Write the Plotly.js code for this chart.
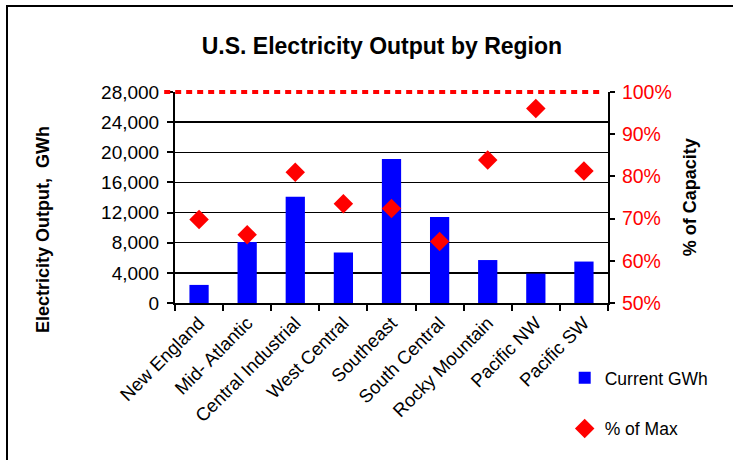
<!DOCTYPE html>
<html>
<head>
<meta charset="utf-8">
<script src="https://cdn.plot.ly/plotly-3.0.1.min.js"></script>
<style>
html,body{margin:0;padding:0;background:#fff;overflow:hidden;}
#wrap{position:relative;width:733px;height:460px;}
#chart{position:absolute;left:0;top:0;width:733px;height:460px;}
#frame{position:absolute;left:6px;top:5px;width:760px;height:500px;border:2px solid #000;pointer-events:none;}
</style>
</head>
<body>
<div id="wrap"><div id="chart"></div><div id="frame"></div></div>
<script>
const regions = ["New England","Mid- Atlantic","Central Industrial","West Central","Southeast","South Central","Rocky Mountain","Pacific NW","Pacific SW"];
const currentGWh = [2400, 8100, 14100, 6700, 19100, 11400, 5700, 3900, 5500];
const pctOfMax = [0.698, 0.662, 0.810, 0.735, 0.724, 0.646, 0.839, 0.961, 0.813];
const maxCapacity = 1.0;
const leftTicks = [0, 4000, 8000, 12000, 16000, 20000, 24000, 28000];
const rightTicks = [0.5, 0.6, 0.7, 0.8, 0.9, 1.0];
const pctRange = [0.5, 1.0];

const FONT = "Liberation Sans, Arial, sans-serif";

const traces = [
  {type:"bar", name:"Current GWh", x:regions, y:currentGWh, marker:{color:"#0000FF"}, width:0.4, legendgroup:"a"},
  {type:"scatter", mode:"markers", name:"% of Max", x:regions, y:pctOfMax, yaxis:"y2", cliponaxis:false,
   marker:{symbol:"diamond", color:"#FF0000", size:15}, legendgroup:"b"}
];

const maxPaperY = (maxCapacity - pctRange[0]) / (pctRange[1] - pctRange[0]);

const layout = {
  width:733, height:460,
  margin:{l:175, r:125, t:92, b:157, pad:0},
  paper_bgcolor:"#fff", plot_bgcolor:"#fff",
  font:{family:FONT, size:17, color:"#000"},
  title:{text:"<b>U.S. Electricity Output by Region</b>", font:{family:FONT, size:23, color:"#000"},
         x:0.521, xref:"container", y:0.9, yref:"container", xanchor:"center", yanchor:"middle"},
  showlegend:true,
  legend:{x:0.90, y:-0.27, xanchor:"left", yanchor:"top", font:{family:FONT, size:17.5, color:"#000"},
          tracegroupgap:25, bgcolor:"rgba(0,0,0,0)", itemwidth:30},
  xaxis:{type:"category", range:[-0.5, 8.5], tickangle:-45, ticks:"outside", ticklen:6, tickwidth:2, tickcolor:"#000",
         tickson:"boundaries", showline:true, linecolor:"#000", linewidth:2, showgrid:false, zeroline:false,
         tickfont:{family:FONT, size:18.5, color:"#000"}},
  xaxis2:{overlaying:"x", anchor:"y", type:"category", categoryorder:"array", categoryarray:regions, range:[-0.5, 8.5],
          tickson:"boundaries", ticks:"inside", ticklen:4, tickwidth:2, tickcolor:"#000", showticklabels:false,
          showline:false, showgrid:false, zeroline:false, side:"bottom"},
  yaxis:{range:[0, 28000], tickvals:leftTicks, ticktext:leftTicks.map(v=>v.toLocaleString("en-US")),
         ticks:"outside", ticklen:6, tickwidth:2, tickcolor:"#000", showline:true, linecolor:"#000", linewidth:2,
         showgrid:true, gridcolor:"#000", gridwidth:1.5, zeroline:false, ticklabelstandoff:4,
         tickfont:{family:FONT, size:19, color:"#000"}},
  yaxis2:{overlaying:"y", side:"right", range:pctRange, tickvals:rightTicks, tickformat:".0%",
          ticks:"outside", ticklen:5, tickwidth:2, tickcolor:"#000", showline:true, linecolor:"#000", linewidth:2,
          showgrid:false, zeroline:false, ticklabelstandoff:3, tickfont:{family:FONT, size:19.5, color:"#FF0000"}},
  yaxis3:{overlaying:"y", side:"right", anchor:"x", range:pctRange, tickvals:rightTicks, showticklabels:false,
          ticks:"inside", ticklen:8, tickwidth:2, tickcolor:"#000", showline:false, showgrid:false, zeroline:false},
  shapes:[
    {type:"line", xref:"paper", x0:-0.025, x1:0.98, yref:"paper", y0:maxPaperY, y1:maxPaperY,
     line:{color:"#FF0000", width:4, dash:"6px,5px"}}
  ],
  annotations:[
    {text:"<b>Electricity Output,  GWh</b>", xref:"paper", yref:"paper", x:-0.305, y:0.35, textangle:-90,
     showarrow:false, xanchor:"center", yanchor:"middle", font:{family:FONT, size:18, color:"#000"}},
    {text:"<b>% of Capacity</b>", xref:"paper", yref:"paper", x:1.189, y:0.5, textangle:-90,
     showarrow:false, xanchor:"center", yanchor:"middle", font:{family:FONT, size:18, color:"#000"}}
  ]
};

Plotly.newPlot("chart", traces, layout, {staticPlot:true, displayModeBar:false});
</script>
</body>
</html>
